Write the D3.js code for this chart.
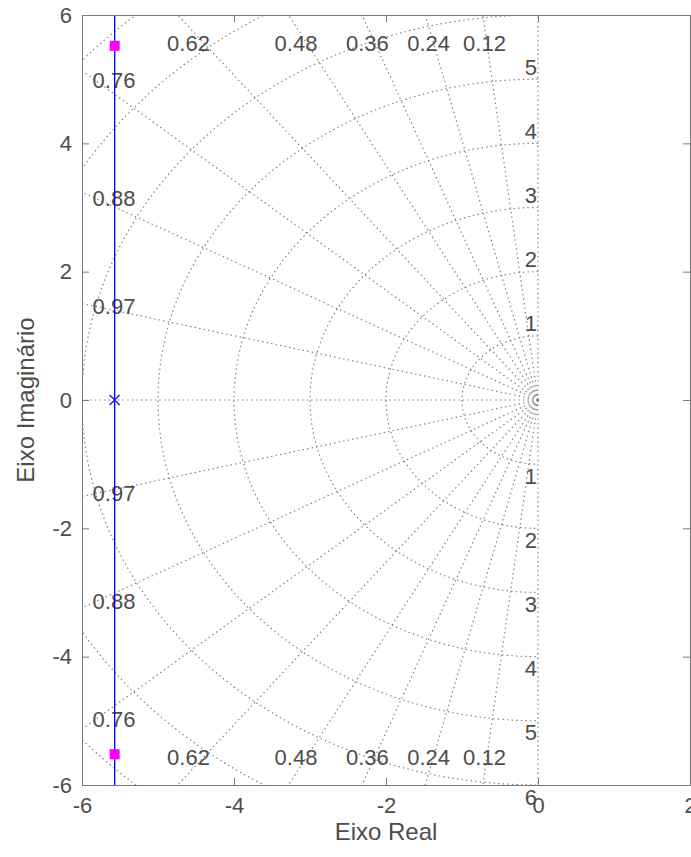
<!DOCTYPE html>
<html lang="pt">
<head>
<meta charset="UTF-8">
<title>Root locus</title>
<script src="https://d3js.org/d3.v7.min.js"></script>
<style>
  body { margin: 0; background: #fff; }
  text { font-family: "Liberation Sans", Arial, sans-serif; }
</style>
</head>
<body>
<script>
  // axis limits and ticks
  const xDomain = [-6, 2];
  const yDomain = [-6, 6];
  const xTicks = [-6, -4, -2, 0, 2];
  const yTicks = [-6, -4, -2, 0, 2, 4, 6];

  // s-grid: damping ratios and natural frequencies
  const zetas = [0.12, 0.24, 0.36, 0.48, 0.62, 0.76, 0.88, 0.97];
  const wnCircles = [1, 2, 3, 4, 5, 6, 7, 8];
  const wnLabelsUpper = [1, 2, 3, 4, 5];
  const wnLabelsLower = [1, 2, 3, 4, 5, 6];

  // root locus branches (real, imag)
  const branchUp = [[-5.57, 0], [-5.57, 8]];
  const branchDown = [[-5.57, 0], [-5.57, -8]];
  const openLoopPoles = [[-5.57, 0]];
  const closedLoopPoles = [[-5.57, 5.52], [-5.57, -5.52]];

  const width = 691, height = 857;
  const margin = { top: 15, right: 1, bottom: 72, left: 82 };

  const svg = d3.select('body').append('svg')
    .attr('width', width)
    .attr('height', height);

  const x = d3.scaleLinear().domain(xDomain).range([margin.left, width - margin.right]);
  const y = d3.scaleLinear().domain(yDomain).range([height - margin.bottom, margin.top]);

  const axisColor = '#7a7a7a';
  const textColor = '#4d4d4d';
  const gridColor = '#7c7c7c';

  svg.append('clipPath').attr('id', 'clip')
    .append('rect')
    .attr('x', x(xDomain[0])).attr('y', y(yDomain[1]))
    .attr('width', x(xDomain[1]) - x(xDomain[0]))
    .attr('height', y(yDomain[0]) - y(yDomain[1]));

  const grid = svg.append('g').attr('clip-path', 'url(#clip)')
    .attr('fill', 'none')
    .attr('stroke', gridColor)
    .attr('stroke-width', 1.2)
    .attr('stroke-dasharray', '1.4,3.2');

  // natural frequency arcs (left half plane)
  const arc = wn => d3.line()(d3.range(90, 270.5, 1).map(a => {
    const t = a * Math.PI / 180;
    return [x(wn * Math.cos(t)), y(wn * Math.sin(t))];
  }));
  grid.selectAll('path.wn').data(wnCircles).join('path')
    .attr('class', 'wn')
    .attr('d', arc);

  // damping lines from origin
  const far = 30;
  zetas.forEach(z => {
    const s = Math.sqrt(1 - z * z);
    [1, -1].forEach(sign => {
      grid.append('line')
        .attr('x1', x(0)).attr('y1', y(0))
        .attr('x2', x(-z * far)).attr('y2', y(sign * s * far));
    });
  });
  // zeta = 1 (real axis) and zeta = 0 (imag axis)
  grid.append('line').attr('x1', x(0)).attr('y1', y(0)).attr('x2', x(-far)).attr('y2', y(0));
  grid.append('line').attr('x1', x(0)).attr('y1', y(0)).attr('x2', x(0)).attr('y2', y(far));
  grid.append('line').attr('x1', x(0)).attr('y1', y(0)).attr('x2', x(0)).attr('y2', y(-far));

  // grid labels
  const labels = svg.append('g')
    .attr('fill', textColor)
    .attr('font-size', 22)
    .attr('text-anchor', 'middle')
    .attr('dominant-baseline', 'central');

  zetas.forEach(z => {
    const tn = Math.sqrt(1 - z * z) / z;   // |imag| / |real|
    const xTop = yDomain[1] / tn;
    const txt = String(z);
    if (xTop < -xDomain[0]) {
      [1, -1].forEach(sign => {
        labels.append('text')
          .attr('x', x(-0.97 * xTop))
          .attr('y', sign > 0 ? y(yDomain[1]) + 28 : y(yDomain[0]) - 28)
          .text(txt);
      });
    } else {
      const yl = -0.97 * xDomain[0] * tn;
      [1, -1].forEach(sign => {
        labels.append('text')
          .attr('x', x(xDomain[0]) + 32)
          .attr('y', y(sign * yl))
          .text(txt);
      });
    }
  });

  labels.selectAll('text.wu').data(wnLabelsUpper).join('text')
    .attr('class', 'wu')
    .attr('text-anchor', 'end')
    .attr('x', x(0) - 1)
    .attr('y', d => y(d) - 12)
    .text(d => d);
  labels.selectAll('text.wl').data(wnLabelsLower).join('text')
    .attr('class', 'wl')
    .attr('text-anchor', 'end')
    .attr('x', x(0) - 1)
    .attr('y', d => y(-d) + 12)
    .text(d => d);

  // root locus
  const plot = svg.append('g').attr('clip-path', 'url(#clip)');
  const line = d3.line().x(d => x(d[0])).y(d => y(d[1]));
  [branchUp, branchDown].forEach(b => {
    plot.append('path')
      .attr('d', line(b))
      .attr('fill', 'none')
      .attr('stroke', '#0808c0')
      .attr('stroke-width', 1.3);
  });

  openLoopPoles.forEach(p => {
    const cx = x(p[0]), cy = y(p[1]), r = 5;
    plot.append('path')
      .attr('d', `M${cx - r},${cy - r}L${cx + r},${cy + r}M${cx - r},${cy + r}L${cx + r},${cy - r}`)
      .attr('stroke', '#1a1aff')
      .attr('stroke-width', 1.4);
  });

  plot.selectAll('rect.cl').data(closedLoopPoles).join('rect')
    .attr('class', 'cl')
    .attr('x', d => x(d[0]) - 5)
    .attr('y', d => y(d[1]) - 5)
    .attr('width', 10).attr('height', 10)
    .attr('fill', '#ff00ff');

  // axes with ticks on all four sides
  const tickLen = 7;
  const fmt = d => d < 0 ? '-' + Math.abs(d) : String(d);

  const gx = svg.append('g')
    .attr('transform', `translate(0,${y(yDomain[0])})`)
    .call(d3.axisBottom(x).tickValues(xTicks).tickSize(-tickLen).tickPadding(12).tickFormat(fmt));
  const gxTop = svg.append('g')
    .attr('transform', `translate(0,${y(yDomain[1])})`)
    .call(d3.axisTop(x).tickValues(xTicks).tickSize(-tickLen).tickFormat(''));
  const gy = svg.append('g')
    .attr('transform', `translate(${x(xDomain[0])},0)`)
    .call(d3.axisLeft(y).tickValues(yTicks).tickSize(-tickLen).tickPadding(10).tickFormat(fmt));
  const gyRight = svg.append('g')
    .attr('transform', `translate(${x(xDomain[1])},0)`)
    .call(d3.axisRight(y).tickValues(yTicks).tickSize(-tickLen).tickFormat(''));

  [gx, gxTop, gy, gyRight].forEach(g => {
    g.select('.domain').attr('stroke', axisColor);
    g.selectAll('.tick line').attr('stroke', axisColor);
    g.selectAll('.tick text')
      .attr('fill', textColor)
      .attr('font-size', 22)
      .attr('font-family', '"Liberation Sans", Arial, sans-serif');
  });

  // axis titles
  svg.append('text')
    .attr('x', (x(xDomain[0]) + x(xDomain[1])) / 2)
    .attr('y', 840)
    .attr('text-anchor', 'middle')
    .attr('fill', textColor)
    .attr('font-size', 24)
    .text('Eixo Real');

  svg.append('text')
    .attr('transform', `translate(34,${(y(yDomain[0]) + y(yDomain[1])) / 2}) rotate(-90)`)
    .attr('text-anchor', 'middle')
    .attr('fill', textColor)
    .attr('font-size', 24)
    .text('Eixo Imaginário');
</script>
</body>
</html>
